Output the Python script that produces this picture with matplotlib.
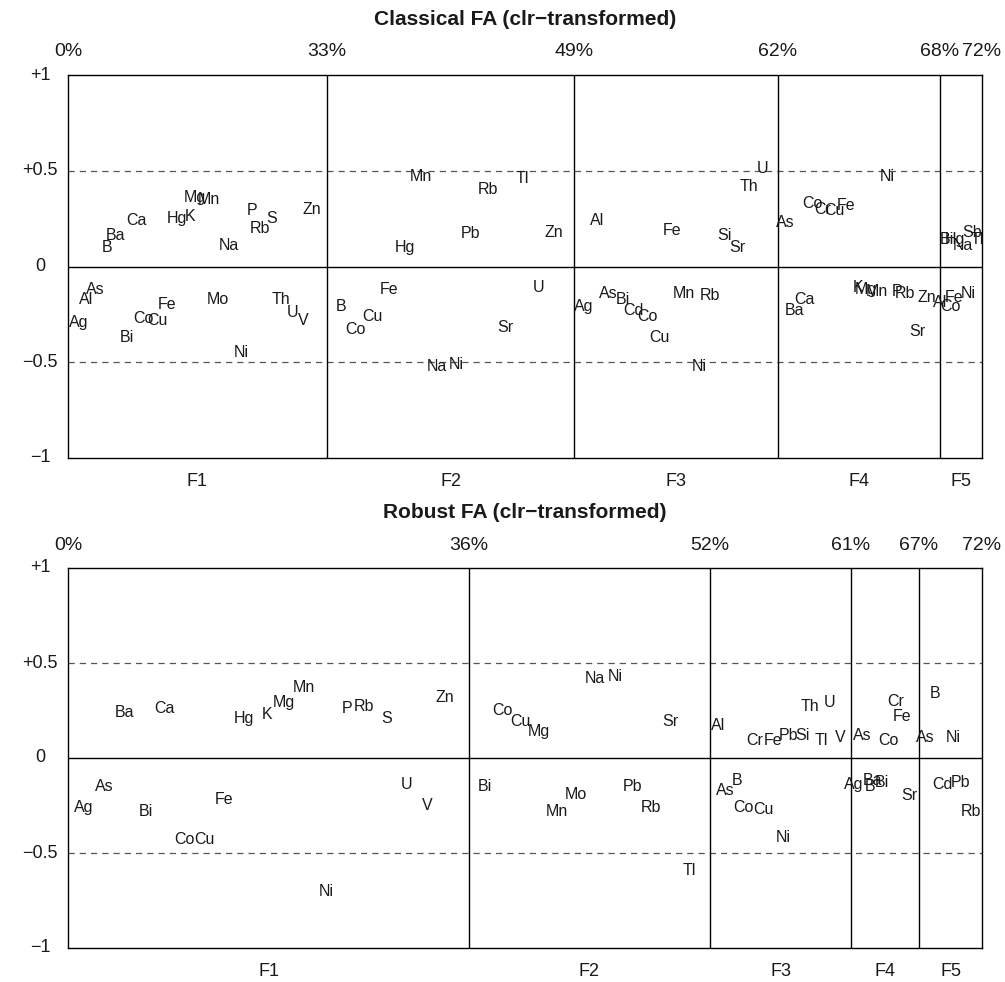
import matplotlib
matplotlib.use("Agg")
import matplotlib.pyplot as plt
import matplotlib.transforms as mtransforms

plt.rcParams['font.family'] = ['Liberation Sans', 'DejaVu Sans']

# ---------------- data ----------------
factor_names = ["F1", "F2", "F3", "F4", "F5"]

# Section boundaries along the axis (axis units) and cumulative explained variance
classical_bounds = [0, 259, 506, 710, 872, 914]
classical_pct = ["0%", "33%", "49%", "62%", "68%", "72%"]
robust_bounds = [0, 401, 642, 783, 851, 914]
robust_pct = ["0%", "36%", "52%", "61%", "67%", "72%"]

# Classical FA: labels, position along axis, loading
classical_labels = [
    # F1
    "Mg", "Mn", "Hg", "K", "Ca", "Ba", "B", "Na", "P", "Rb", "S", "Zn",
    "As", "Al", "Ag", "Co", "Cu", "Fe", "Bi", "Mo", "Ni", "Th", "U", "V",
    # F2
    "Mn", "Tl", "Rb", "Pb", "Zn", "Hg", "Fe", "U", "B", "Cu", "Co", "Sr", "Na", "Ni",
    # F3
    "U", "Th", "Al", "Fe", "Si", "Sr", "Ag", "As", "Bi", "Cd", "Co", "Mn", "Rb", "Cu", "Ni",
    # F4
    "Ni", "Co", "Cr", "Cu", "Fe", "As", "Ca", "Ba", "K", "Mg", "Mn", "P", "Rb", "Zn", "Sr",
    # F5
    "Bi", "Hg", "Na", "Sb", "Tl", "Al", "Co", "Fe", "Ni",
]
classical_x = [
    127, 141, 109, 122, 68, 47, 39, 161, 184, 192, 204, 244,
    27, 18, 11, 75, 89, 99, 59, 150, 173, 213, 225, 235,
    353, 454, 420, 403, 486, 337, 321, 471, 273, 304, 287, 437, 369, 388,
    695, 681, 529, 604, 656, 669, 516, 540, 555, 565, 579, 616, 642, 591, 631,
    819, 744, 755, 766, 778, 717, 736, 726, 790, 798, 809, 829, 837, 859, 849,
    879, 887, 895, 904, 909, 872, 882, 886, 900,
]
classical_load = [
    0.36, 0.35, 0.25, 0.26, 0.24, 0.16, 0.10, 0.11, 0.29, 0.20, 0.25, 0.30,
    -0.12, -0.17, -0.29, -0.27, -0.28, -0.20, -0.37, -0.17, -0.45, -0.17, -0.24, -0.28,
    0.47, 0.46, 0.40, 0.17, 0.18, 0.10, -0.12, -0.11, -0.21, -0.26, -0.33, -0.32, -0.52, -0.51,
    0.51, 0.42, 0.24, 0.19, 0.16, 0.10, -0.21, -0.14, -0.17, -0.23, -0.26, -0.14, -0.15, -0.37, -0.52,
    0.47, 0.33, 0.30, 0.29, 0.32, 0.23, -0.17, -0.23, -0.11, -0.12, -0.13, -0.13, -0.14, -0.16, -0.34,
    0.14, 0.14, 0.11, 0.18, 0.14, -0.19, -0.21, -0.16, -0.14,
]

# Robust FA
robust_labels = [
    # F1
    "Mn", "Mg", "K", "Hg", "Ca", "Ba", "P", "Rb", "S", "Zn",
    "As", "Ag", "Bi", "Fe", "Co", "Cu", "U", "V", "Ni",
    # F2
    "Na", "Ni", "Co", "Cu", "Mg", "Sr", "Bi", "Mo", "Mn", "Pb", "Rb", "Tl",
    # F3
    "Al", "Cr", "Fe", "Pb", "Si", "Th", "U", "Tl", "V", "As", "B", "Co", "Cu", "Ni",
    # F4
    "As", "Co", "Cr", "Fe", "Ag", "B", "Ba", "Bi", "Sr",
    # F5
    "B", "As", "Ni", "Cd", "Pb", "Rb",
]
robust_x = [
    236, 216, 199, 176, 96, 56, 279, 296, 319, 377,
    36, 16, 78, 156, 116, 136, 339, 359, 258,
    527, 547, 434, 452, 471, 602, 417, 508, 489, 564, 583, 621,
    650, 687, 705, 721, 734, 742, 762, 753, 772, 657, 669, 675, 695, 715,
    794, 820, 828, 834, 786, 802, 805, 814, 841,
    867, 857, 885, 874, 893, 903,
]
robust_load = [
    0.37, 0.29, 0.23, 0.21, 0.26, 0.24, 0.26, 0.27, 0.21, 0.32,
    -0.15, -0.26, -0.28, -0.22, -0.43, -0.43, -0.14, -0.25, -0.70,
    0.42, 0.43, 0.25, 0.19, 0.14, 0.19, -0.15, -0.19, -0.28, -0.15, -0.26, -0.59,
    0.17, 0.09, 0.09, 0.12, 0.12, 0.27, 0.29, 0.09, 0.11, -0.17, -0.12, -0.26, -0.27, -0.42,
    0.12, 0.09, 0.30, 0.22, -0.14, -0.15, -0.12, -0.13, -0.20,
    0.34, 0.11, 0.11, -0.14, -0.13, -0.28,
]

yticks = [1, 0.5, 0, -0.5, -1]
ytick_labels = ["+1", "+0.5", "0", "\u22120.5", "\u22121"]

# ---------------- figure ----------------
W, H = 1005, 982
fig = plt.figure(figsize=(W / 100, H / 100), dpi=100)

TXT = "#1a1a1a"


def panel(rect_px, title, bounds, pct, labels, xs, loads):
    left, top, right, bottom = rect_px
    ax = fig.add_axes([left / W, 1 - bottom / H, (right - left) / W, (bottom - top) / H])
    ax.set_xlim(bounds[0], bounds[-1])
    ax.set_ylim(-1, 1)
    ax.set_xticks([])
    ax.set_yticks([])
    for s in ax.spines.values():
        s.set_linewidth(1.0)
        s.set_color("black")
    # reference lines
    ax.axhline(0, color="black", lw=1.0)
    for v in (0.5, -0.5):
        ax.axhline(v, color="#555555", lw=0.9, linestyle=(0, (5, 4)))
    for b in bounds[1:-1]:
        ax.axvline(b, color="black", lw=1.0)
    # labels
    for lab, x, y in zip(labels, xs, loads):
        ax.text(x, y, lab, ha="center", va="center", fontsize=11.5, color=TXT)
    # y tick labels (centered, left of axis)
    ytr = mtransforms.blended_transform_factory(fig.transFigure, ax.transData)
    for yv, yl in zip(yticks, ytick_labels):
        ax.text(40 / W, yv, yl, transform=ytr, ha="center", va="center",
                fontsize=13, color=TXT, clip_on=False)
    # percentage labels on top
    hpx = bottom - top
    xtr = ax.get_xaxis_transform()
    for b, p in zip(bounds, pct):
        ax.text(b, 1 + 23 / hpx, p, transform=xtr, ha="center", va="center",
                fontsize=14, color=TXT, clip_on=False)
    # factor names below
    for i, f in enumerate(factor_names):
        mid = (bounds[i] + bounds[i + 1]) / 2
        ax.text(mid, -23 / hpx, f, transform=xtr, ha="center", va="center",
                fontsize=13, color=TXT, clip_on=False)
    # title
    ax.text(0.5, 1 + 55 / hpx, title, transform=ax.transAxes, ha="center",
            va="center", fontsize=15, fontweight="bold", color=TXT, clip_on=False)
    return ax


panel((68, 75, 982, 458), "Classical FA (clr\u2212transformed)",
      classical_bounds, classical_pct, classical_labels, classical_x, classical_load)
panel((68, 568, 982, 948), "Robust FA (clr\u2212transformed)",
      robust_bounds, robust_pct, robust_labels, robust_x, robust_load)

fig.savefig("out.png", dpi=100)
